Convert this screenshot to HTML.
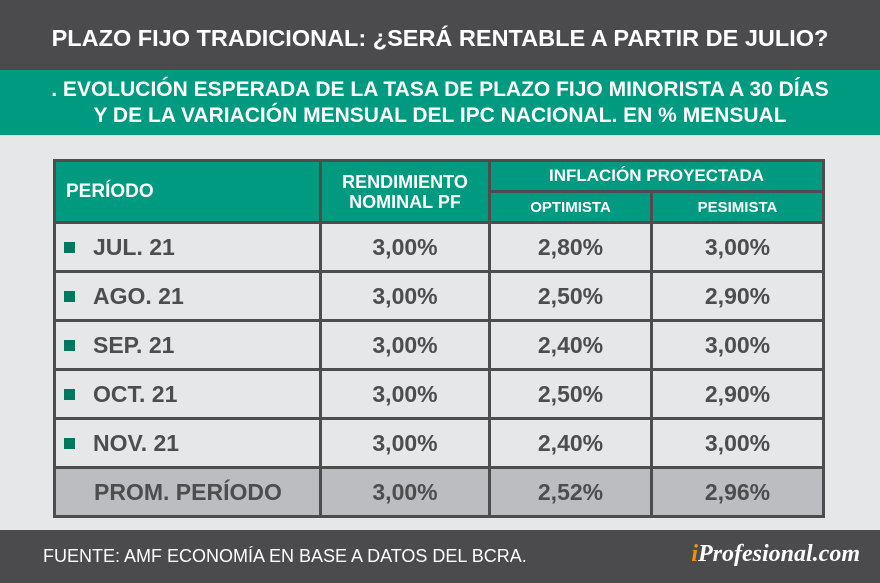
<!DOCTYPE html>
<html><head><style>
body{margin:0;width:880px;height:583px;overflow:hidden;background:#e6e7e8;font-family:"Liberation Sans","DejaVu Sans",sans-serif;position:relative}
.top{position:absolute;left:0;top:0;width:880px;height:70px;background:#4b4b4d;color:#fff;font-weight:bold;font-size:23.5px;text-align:center;line-height:76px}
.green{position:absolute;left:0;top:70px;width:880px;height:65px;background:#009a81;color:#fff;font-weight:bold;font-size:21px;text-align:center;line-height:26px;padding-top:7px;box-sizing:border-box}
.foot{position:absolute;left:0;top:530px;width:880px;height:53px;background:#4b4b4d;color:#fff}
.foot .s{position:absolute;left:43px;top:16px;font-size:18px}
.foot .l{position:absolute;right:20px;top:11px;font-family:"Liberation Serif",serif;font-style:italic;font-weight:bold;font-size:24px}
table{position:absolute;left:53px;top:159px;border-collapse:collapse}
td{border:3px solid #4d4d4f;padding:0;text-align:center;color:#4d4d4f;font-weight:bold;font-size:23px}
th{border:3px solid #4d4d4f;background:#009a81;color:#fff;font-weight:bold;padding:0}
.sq{display:inline-block;width:11px;height:11px;background:#00785f;margin:0 18px 0 8px;vertical-align:2px}
td.p{text-align:left}
tr.sum td{background:#bcbdc0}
</style></head><body>
<div class="top">PLAZO FIJO TRADICIONAL: ¿SERÁ RENTABLE A PARTIR DE JULIO?</div>
<div class="green">. EVOLUCIÓN ESPERADA DE LA TASA DE PLAZO FIJO MINORISTA A 30 DÍAS<br>Y DE LA VARIACIÓN MENSUAL DEL IPC NACIONAL. EN % MENSUAL</div>
<table>
<tr style="height:31px"><th rowspan="2" style="width:266px;text-align:left;padding-left:10px;font-size:19px;box-sizing:border-box">PERÍODO</th><th rowspan="2" style="width:166px;font-size:18px;line-height:20px">RENDIMIENTO<br>NOMINAL PF</th><th colspan="2" style="font-size:17px">INFLACIÓN PROYECTADA</th></tr>
<tr style="height:31px"><th style="width:159px;font-size:15px">OPTIMISTA</th><th style="width:169px;font-size:15px">PESIMISTA</th></tr>
<tr style="height:49px"><td class="p"><span class="sq"></span>JUL. 21</td><td>3,00%</td><td>2,80%</td><td>3,00%</td></tr>
<tr style="height:49px"><td class="p"><span class="sq"></span>AGO. 21</td><td>3,00%</td><td>2,50%</td><td>2,90%</td></tr>
<tr style="height:49px"><td class="p"><span class="sq"></span>SEP. 21</td><td>3,00%</td><td>2,40%</td><td>3,00%</td></tr>
<tr style="height:49px"><td class="p"><span class="sq"></span>OCT. 21</td><td>3,00%</td><td>2,50%</td><td>2,90%</td></tr>
<tr style="height:49px"><td class="p"><span class="sq"></span>NOV. 21</td><td>3,00%</td><td>2,40%</td><td>3,00%</td></tr>
<tr class="sum" style="height:49px"><td class="p" style="padding-left:38px">PROM. PERÍODO</td><td>3,00%</td><td>2,52%</td><td>2,96%</td></tr>
</table>
<div class="foot"><span class="s">FUENTE: AMF ECONOMÍA EN BASE A DATOS DEL BCRA.</span><span class="l"><span style="color:#f39200">i</span>Profesional.com</span></div>
</body></html>
